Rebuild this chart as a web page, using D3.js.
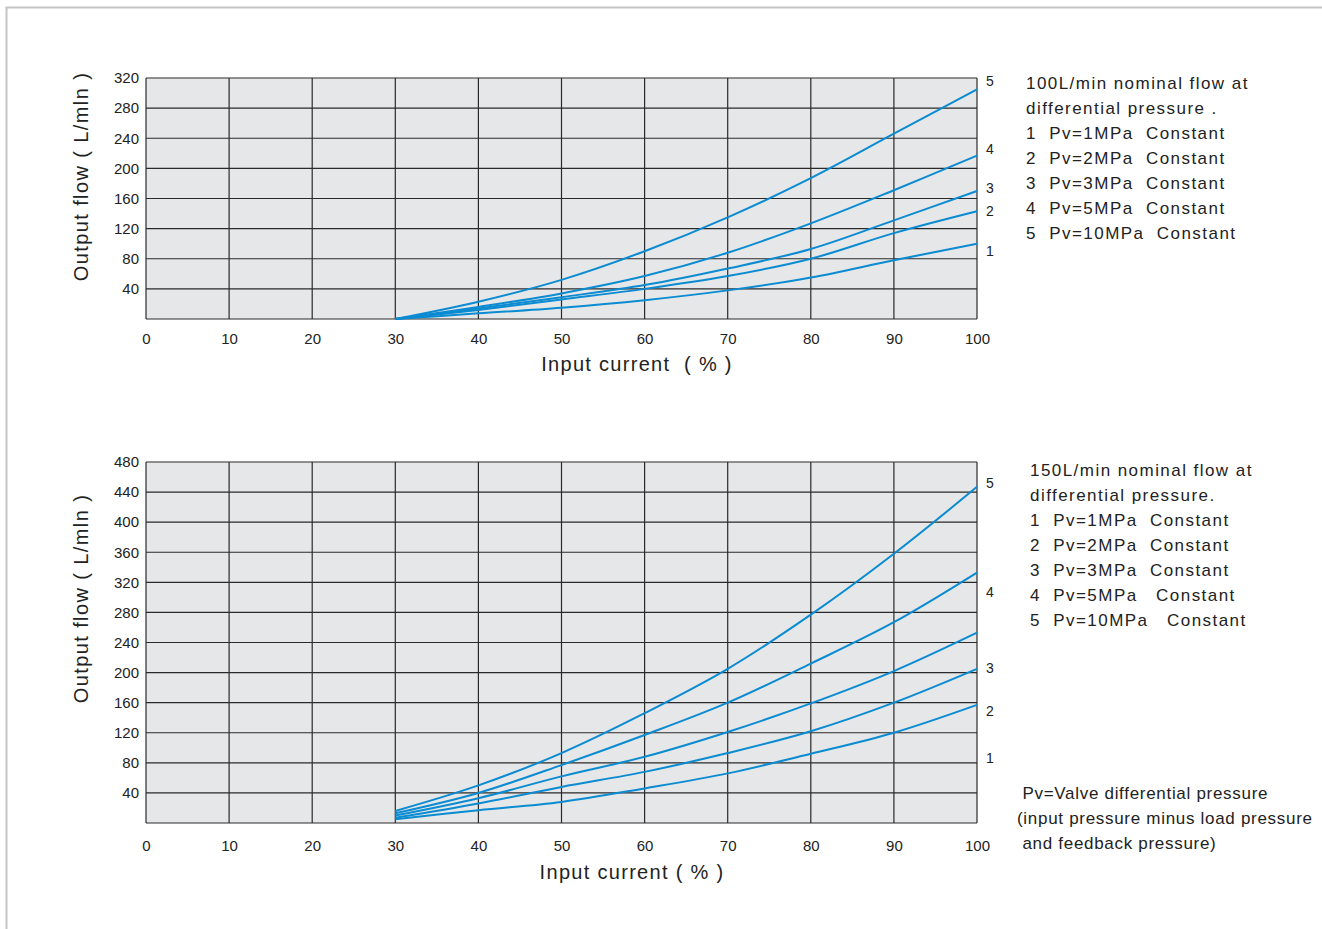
<!DOCTYPE html>
<html>
<head>
<meta charset="utf-8">
<script src="https://cdn.jsdelivr.net/npm/d3@7"></script>
<style>
  html, body { margin: 0; padding: 0; background: #fff; }
  svg { display: block; }
  text { font-family: "Liberation Sans", Arial, sans-serif; fill: #222; }
</style>
</head>
<body>
<svg id="chart" width="1322" height="929"></svg>
<script>
// ---------- data ----------
const inputCurrent = [30, 40, 50, 60, 70, 80, 90, 100];
const xTicks = [0, 10, 20, 30, 40, 50, 60, 70, 80, 90, 100];

// Chart A: 100 L/min nominal flow
const topTicksY = [40, 80, 120, 160, 200, 240, 280, 320];
const top_pv1  = [0, 7.5, 15, 25, 38, 55, 78, 100];
const top_pv2  = [0, 12, 26, 40, 57, 80, 114, 143];
const top_pv3  = [0, 14, 29, 45, 67, 93, 131, 170];
const top_pv5  = [0, 16, 34, 57, 88, 127, 171, 217];
const top_pv10 = [0, 23, 52, 90, 135, 187, 246, 305];
const topLabelAt = [90, 143, 174, 226, 316];   // value where curve number is written

// Chart B: 150 L/min nominal flow
const botTicksY = [40, 80, 120, 160, 200, 240, 280, 320, 360, 400, 440, 480];
const bot_pv1  = [5, 17, 28, 46, 66, 92, 120, 157];
const bot_pv2  = [7, 26, 48, 68, 93, 122, 160, 205];
const bot_pv3  = [10, 33, 62, 88, 121, 159, 202, 253];
const bot_pv5  = [13, 40, 77, 117, 160, 212, 267, 333];
const bot_pv10 = [16, 50, 93, 146, 205, 277, 358, 447];
const botLabelAt = [86, 149, 206, 307, 452];

const curveNames = ["1", "2", "3", "4", "5"];

const topLegend = [
  "100L/min nominal flow at",
  "differential pressure .",
  "1  Pv=1MPa  Constant",
  "2  Pv=2MPa  Constant",
  "3  Pv=3MPa  Constant",
  "4  Pv=5MPa  Constant",
  "5  Pv=10MPa  Constant"
];
const botLegend = [
  "150L/min nominal flow at",
  "differential pressure.",
  "1  Pv=1MPa  Constant",
  "2  Pv=2MPa  Constant",
  "3  Pv=3MPa  Constant",
  "4  Pv=5MPa   Constant",
  "5  Pv=10MPa   Constant"
];
const noteLines = [
  " Pv=Valve differential pressure",
  "(input pressure minus load pressure",
  " and feedback pressure)"
];

// ---------- drawing ----------
const svg = d3.select("#chart");

// page frame
svg.append("path")
  .attr("d", "M6.5,929 V7.5 H1322")
  .attr("fill", "none").attr("stroke", "#c4c4c4").attr("stroke-width", 2);

function drawChart(cfg) {
  const x = d3.scaleLinear().domain([0, 100]).range([146, 977]);
  const y = d3.scaleLinear().domain([0, cfg.yMax]).range([cfg.bottom, cfg.top]);
  const g = svg.append("g");

  g.append("rect")
    .attr("x", x(0)).attr("y", y(cfg.yMax))
    .attr("width", x(100) - x(0)).attr("height", y(0) - y(cfg.yMax))
    .attr("fill", "#e6e7e8");

  // grid
  g.append("g").selectAll("line").data(xTicks).join("line")
    .attr("x1", d => x(d)).attr("x2", d => x(d))
    .attr("y1", y(0)).attr("y2", y(cfg.yMax))
    .attr("stroke", "#2a2a2a").attr("stroke-width", 1.2);
  g.append("g").selectAll("line").data([0].concat(cfg.yTicks)).join("line")
    .attr("x1", x(0)).attr("x2", x(100))
    .attr("y1", d => y(d)).attr("y2", d => y(d))
    .attr("stroke", "#2a2a2a").attr("stroke-width", 1.2);

  // axes (labels only, via d3 axes)
  const xAxis = d3.axisBottom(x).tickValues(xTicks).tickSize(0).tickPadding(0);
  const xg = g.append("g").attr("transform", `translate(0,${y(0) + cfg.xTickOffset})`).call(xAxis);
  xg.select(".domain").remove();
  xg.selectAll("text").attr("font-size", 15).attr("fill", "#333")
    .attr("font-family", "Liberation Sans, Arial, sans-serif").attr("dy", "0.35em");

  const yAxis = d3.axisLeft(y).tickValues(cfg.yTicks).tickSize(0).tickPadding(7);
  const yg = g.append("g").attr("transform", `translate(${x(0)},0)`).call(yAxis);
  yg.select(".domain").remove();
  yg.selectAll("text").attr("font-size", 15).attr("fill", "#333")
    .attr("font-family", "Liberation Sans, Arial, sans-serif");

  // curves
  const line = d3.line()
    .x((d, i) => x(inputCurrent[i]))
    .y(d => y(d))
    .curve(d3.curveCatmullRom.alpha(0.5));
  g.append("g").selectAll("path").data(cfg.series).join("path")
    .attr("d", d => line(d))
    .attr("fill", "none").attr("stroke", "#0a8bd2").attr("stroke-width", 2);

  // curve numbers
  g.append("g").selectAll("text").data(cfg.labelAt).join("text")
    .attr("x", x(100) + 13).attr("y", d => y(d))
    .attr("dominant-baseline", "central").attr("text-anchor", "middle")
    .attr("font-size", 14).attr("fill", "#333")
    .text((d, i) => curveNames[i]);

  // axis titles
  g.append("text")
    .attr("transform", `translate(81,${(cfg.top + cfg.bottom) / 2 + cfg.yTitleShift}) rotate(-90)`)
    .attr("text-anchor", "middle").attr("dominant-baseline", "central")
    .attr("font-size", 20).attr("letter-spacing", "1.4px").attr("fill", "#333")
    .text("Output flow ( L/mln )");
  g.append("text")
    .attr("x", cfg.xTitleX).attr("y", cfg.xTitleY)
    .attr("text-anchor", "middle").attr("dominant-baseline", "central")
    .attr("font-size", 20).attr("letter-spacing", "1.3px").attr("fill", "#333")
    .style("white-space", "pre")
    .text(cfg.xTitle);

  // legend
  g.append("g").selectAll("text").data(cfg.legend).join("text")
    .attr("x", cfg.legendX).attr("y", (d, i) => cfg.legendY + i * 25)
    .attr("dominant-baseline", "central")
    .attr("font-size", 17).attr("letter-spacing", "1.45px").attr("fill", "#222")
    .style("white-space", "pre")
    .text(d => d);
}

drawChart({
  yMax: 320, top: 78, bottom: 319, yTicks: topTicksY,
  series: [top_pv1, top_pv2, top_pv3, top_pv5, top_pv10],
  labelAt: topLabelAt, xTickOffset: 20, yTitleShift: -22,
  xTitle: "Input current  ( % )", xTitleX: 637, xTitleY: 364,
  legend: topLegend, legendX: 1026, legendY: 83
});

drawChart({
  yMax: 480, top: 462, bottom: 823, yTicks: botTicksY,
  series: [bot_pv1, bot_pv2, bot_pv3, bot_pv5, bot_pv10],
  labelAt: botLabelAt, xTickOffset: 23, yTitleShift: -44,
  xTitle: "Input current ( % )", xTitleX: 632, xTitleY: 872,
  legend: botLegend, legendX: 1030, legendY: 470
});

svg.append("g").selectAll("text").data(noteLines).join("text")
  .attr("x", 1017).attr("y", (d, i) => 793 + i * 25)
  .attr("dominant-baseline", "central")
  .attr("font-size", 17).attr("letter-spacing", "0.7px").attr("fill", "#222")
  .style("white-space", "pre")
  .text(d => d);
</script>
</body>
</html>
